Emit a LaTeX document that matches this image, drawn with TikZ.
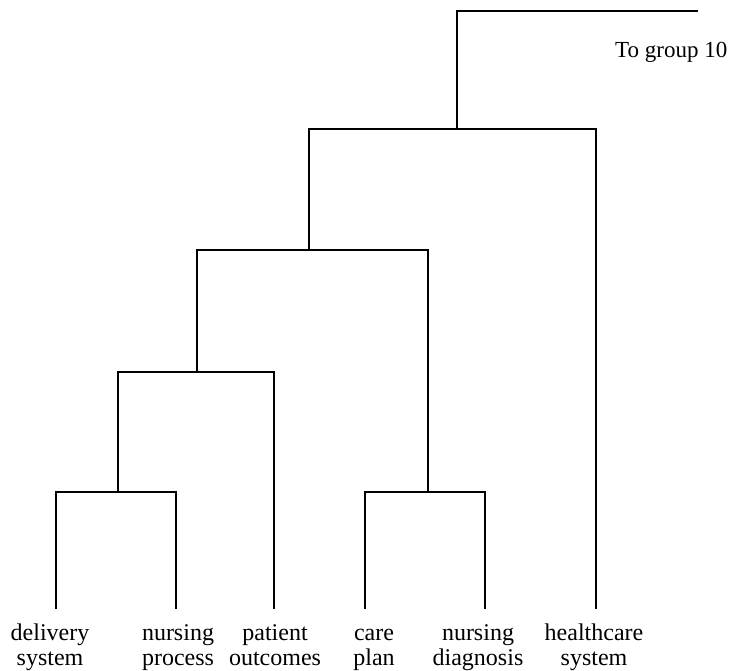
\documentclass[tikz,border=0pt]{standalone}
\usepackage{fontspec}
\setmainfont{Liberation Serif}
\begin{document}
\begin{tikzpicture}[x=1pt,y=-1pt,
  link/.style={line width=2.8pt, line join=miter},
  leaf/.style={font=\fontsize{24}{25}\selectfont, align=center, inner sep=0pt, anchor=base},
  note/.style={font=\fontsize{23}{25}\selectfont, inner sep=0pt, anchor=base west}]
\useasboundingbox (0,0) rectangle (737,671);

% leaf labels (anchored on the baseline of the lower line)
\node[leaf] (ds) at (50,665)  {delivery\\system};
\node[leaf] (np) at (178,665) {nursing\\process};
\node[leaf] (po) at (275,665) {patient\\outcomes};
\node[leaf] (cp) at (374,665) {care\\plan};
\node[leaf] (nd) at (478,665) {nursing\\diagnosis};
\node[leaf] (hc) at (594,665) {healthcare\\system};

% tips of the leaf branches
\coordinate (tDS) at (56,609);
\coordinate (tNP) at (176,609);
\coordinate (tPO) at (274,609);
\coordinate (tCP) at (365,609);
\coordinate (tND) at (485,609);
\coordinate (tHC) at (596,609);

% merge points (stem foot of each cluster bar)
\coordinate (j1) at (118,492);
\coordinate (j3) at (428,492);
\coordinate (j2) at (197,372);
\coordinate (j4) at (309,250);
\coordinate (j5) at (457,129);
\coordinate (out) at (698,11);

% cluster bars
\draw[link] (tDS) |- (j1) -| (tNP);
\draw[link] (tCP) |- (j3) -| (tND);
\draw[link] (j1) |- (j2) -| (tPO);
\draw[link] (j2) |- (j4) -| (j3);
\draw[link] (j4) |- (j5) -| (tHC);
\draw[link] (j5) |- (out);

\node[note] (grp) at (615,58) {To group 10};
\end{tikzpicture}
\end{document}
